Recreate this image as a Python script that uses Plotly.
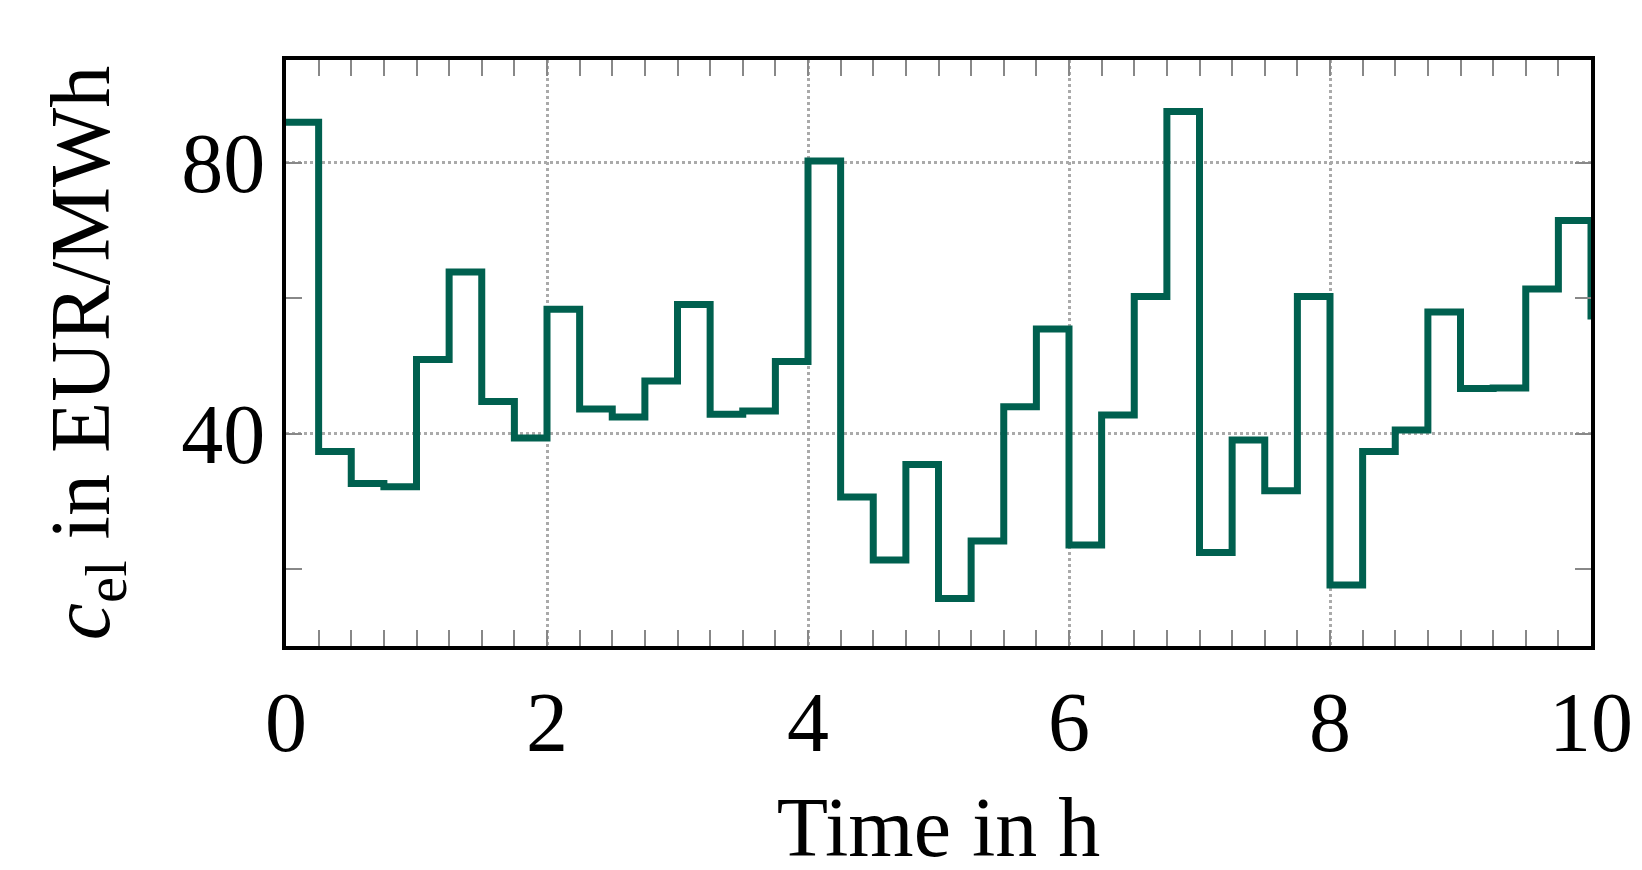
import plotly.graph_objects as go

times = [i * 0.25 for i in range(41)]
prices = [86.0, 37.4, 32.7, 32.2, 51.0, 63.9, 44.8, 39.4, 58.4, 43.7,
          42.5, 47.8, 59.1, 42.9, 43.4, 50.7, 80.3, 30.7, 21.4, 35.5,
          15.7, 24.2, 44.0, 55.5, 23.6, 42.8, 60.3, 87.6, 22.5, 39.1,
          31.6, 60.3, 17.7, 37.4, 40.6, 58.0, 46.7, 46.8, 61.4, 71.5, 56.9]

fig = go.Figure(go.Scatter(x=times, y=prices, mode="lines", line_shape="hv",
                           line=dict(color="#00604F", width=7), showlegend=False))

font = "Liberation Serif, serif"
fig.update_layout(
    width=1642, height=870, plot_bgcolor="white", paper_bgcolor="white",
    margin=dict(l=278, r=59, t=52, b=232),
    font=dict(family=font, size=84, color="black"),
)
fig.update_xaxes(range=[0, 10], tickvals=[0, 2, 4, 6, 8, 10], showline=True, linecolor="black",
                 linewidth=4, mirror="ticks", ticks="inside", ticklen=16, tickcolor="#888",
                 tickwidth=2, showgrid=True, gridcolor="#aaa", griddash="dot", gridwidth=3,
                 zeroline=False,
                 minor=dict(dtick=0.25, tick0=0, ticks="inside", ticklen=16, tickcolor="#888", showgrid=False),
                 title=dict(text="Time in h", font=dict(size=84), standoff=30), tickfont=dict(size=84))
fig.update_yaxes(range=[8.7, 95.2], tickvals=[40, 80], showline=True, linecolor="black",
                 linewidth=4, mirror="ticks", ticks="inside", ticklen=16, tickcolor="#888",
                 tickwidth=2, showgrid=True, gridcolor="#aaa", griddash="dot", gridwidth=3,
                 zeroline=False,
                 minor=dict(tickvals=[20, 60], ticks="inside", ticklen=16, tickcolor="#888", showgrid=False),
                 title=dict(text="<i>c</i><sub>el</sub> in EUR/MWh", font=dict(size=84), standoff=45),
                 tickfont=dict(size=84))
fig.write_html("out.html")
